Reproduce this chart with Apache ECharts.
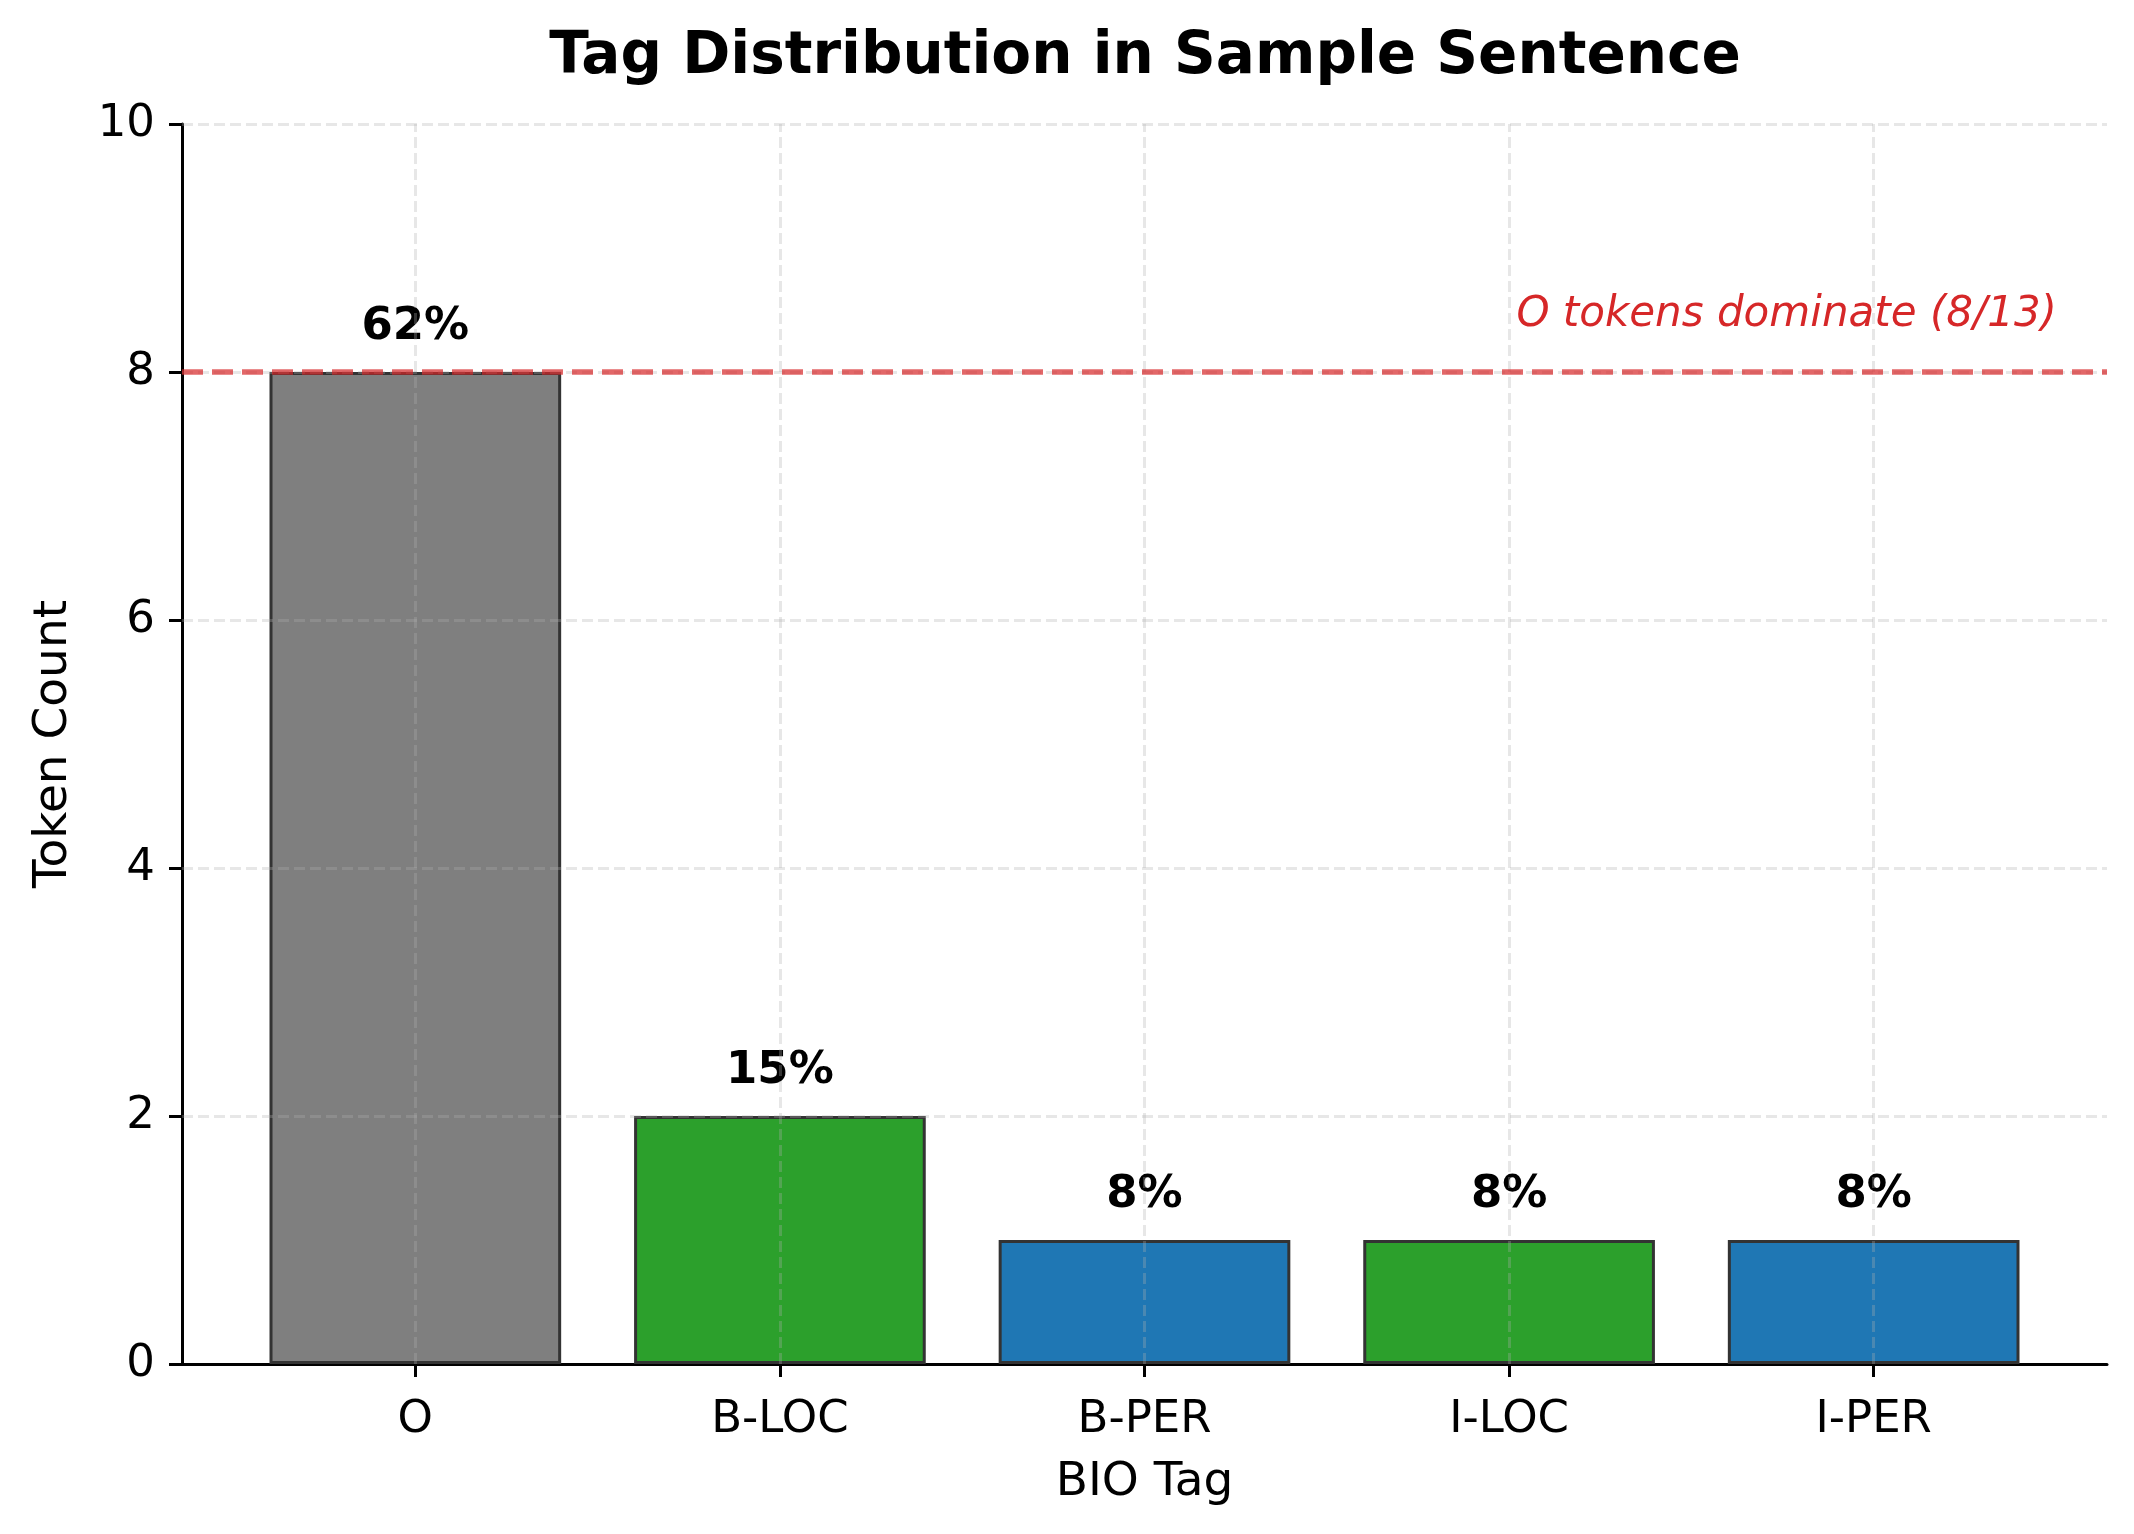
<!DOCTYPE html>
<html>
<head>
<meta charset="utf-8">
<script src="https://cdn.jsdelivr.net/npm/echarts@6/dist/echarts.min.js"></script>
<style>
  html, body { margin: 0; padding: 0; background: #fff; }
  #chart { width: 2134px; height: 1534px; }
</style>
</head>
<body>
<div id="chart"></div>
<script>
const tags = ['O', 'B-LOC', 'B-PER', 'I-LOC', 'I-PER']
const tagPositions = [0, 1, 2, 3, 4]
const counts = [8, 2, 1, 1, 1]
const pctLabels = ['62%', '15%', '8%', '8%', '8%']
const barColors = ['#7f7f7f', '#2ca02c', '#1f77b4', '#2ca02c', '#1f77b4']
const yTicks = [0, 2, 4, 6, 8, 10]
const refValue = 8
const noteText = 'O tokens dominate (8/13)'
const notePoint = [3.02, 8.46]

const FONT = 'DejaVu Sans'
const gridLine = {
  color: 'rgba(176,176,176,0.3)',
  width: 3,
  type: [11, 5]
}

const chart = echarts.init(document.getElementById('chart'))

const option = {
  animation: false,
  backgroundColor: '#fff',
  title: {
    text: 'Tag Distribution in Sample Sentence',
    left: 1140,
    textAlign: 'center',
    top: 24,
    textStyle: { fontFamily: FONT, fontSize: 58, fontWeight: 'bold', color: '#000' }
  },
  grid: { left: 182, right: 27, top: 124, bottom: 170 },
  xAxis: {
    type: 'value',
    min: -0.64,
    max: 4.64,
    name: 'BIO Tag',
    nameLocation: 'middle',
    nameGap: 95,
    nameTextStyle: { fontFamily: FONT, fontSize: 47, color: '#000' },
    axisLine: { show: true, onZero: false, lineStyle: { color: '#000', width: 3 } },
    axisTick: { show: true, customValues: tagPositions, length: 13, lineStyle: { color: '#000', width: 3 } },
    axisLabel: {
      customValues: tagPositions,
      formatter: (v) => tags[Math.round(v)],
      margin: 34,
      fontFamily: FONT, fontSize: 45, color: '#000'
    },
    splitLine: { show: false }
  },
  yAxis: {
    type: 'value',
    min: 0,
    max: 10,
    interval: 2,
    name: 'Token Count',
    nameLocation: 'middle',
    nameGap: 105,
    nameTextStyle: { fontFamily: FONT, fontSize: 47, color: '#000' },
    axisLine: { show: true, onZero: false, lineStyle: { color: '#000', width: 3 } },
    axisTick: { show: true, length: 13, lineStyle: { color: '#000', width: 3 } },
    axisLabel: { margin: 27, fontFamily: FONT, fontSize: 45, color: '#000' },
    splitLine: { show: false }
  },
  series: [
    {
      type: 'bar',
      barWidth: '80%',
      data: counts.map((v, i) => ({
        value: [tagPositions[i], v],
        itemStyle: { color: barColors[i], borderColor: '#333333', borderWidth: 3 }
      })),
      label: {
        show: true,
        position: 'top',
        distance: 22,
        formatter: (arg) => pctLabels[arg.dataIndex],
        fontFamily: FONT, fontSize: 45, fontWeight: 'bold', color: '#000'
      },
      markLine: {
        silent: true,
        symbol: ['none', 'none'],
        label: { show: false },
        lineStyle: gridLine,
        data: tagPositions.map(x => ({ xAxis: x }))
          .concat(yTicks.slice(1).map(y => ({ yAxis: y })))
      }
    },
    {
      type: 'scatter',
      symbolSize: 0,
      z: 4,
      itemStyle: { opacity: 1 },
      data: [notePoint],
      label: {
        show: true,
        position: 'right',
        distance: 0,
        formatter: noteText,
        fontFamily: FONT, fontSize: 42, fontStyle: 'italic', color: '#d62728'
      },
      markLine: {
        silent: true,
        z: 6,
        symbol: ['none', 'none'],
        label: { show: false },
        lineStyle: { color: 'rgba(214,39,40,0.7)', width: 5.5, type: [21, 9] },
        data: [{ yAxis: refValue }]
      }
    }
  ]
}

chart.setOption(option)
</script>
</body>
</html>
